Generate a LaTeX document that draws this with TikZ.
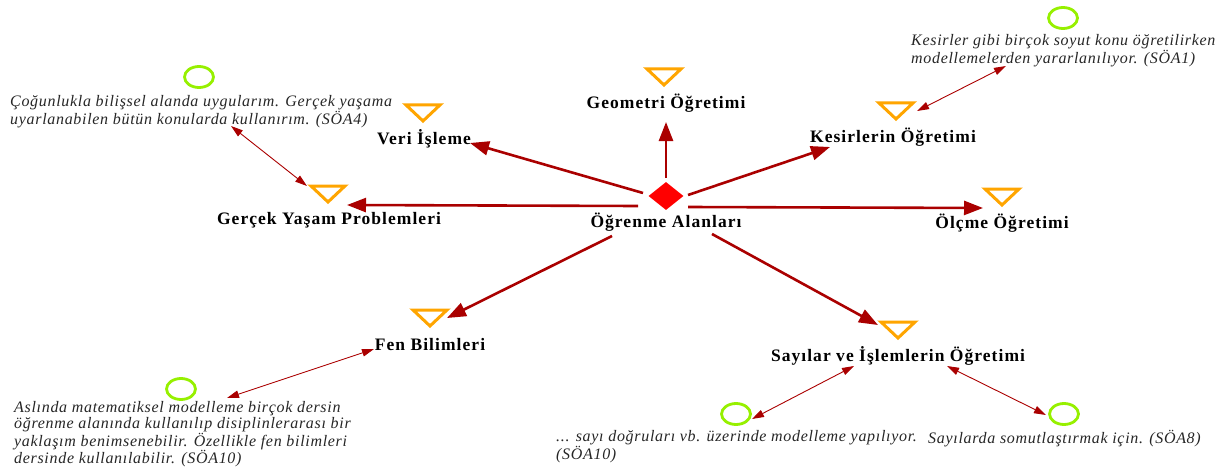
\documentclass[tikz,border=0pt]{standalone}
\usepackage{fontspec}
\setmainfont{Liberation Serif}
\usetikzlibrary{arrows.meta,shapes.geometric,calc}
\definecolor{arrowred}{RGB}{170,0,0}
\definecolor{triorange}{RGB}{255,165,0}
\definecolor{ringgreen}{RGB}{150,240,0}
\definecolor{hubred}{RGB}{255,0,0}
\tikzset{
  lab/.style={inner sep=0pt, font=\fontsize{17.5}{20}\selectfont\bfseries\addfontfeatures{LetterSpace=6}},
  note/.style={inner sep=0pt, anchor=north west, align=left,
    font=\fontsize{16}{16.2}\selectfont\itshape\addfontfeatures{LetterSpace=4.3}, text=black!85},
  hub/.style={diamond, fill=hubred, minimum width=35pt, minimum height=28pt, inner sep=0pt},
  ring/.style={ellipse, draw=ringgreen, line width=2.8pt, minimum width=29pt, minimum height=21pt, inner sep=0pt},
  mainarrow/.style={draw=arrowred, line width=2.6pt, -{Triangle[length=19pt,width=14pt]}},
  linkarrow/.style={draw=arrowred, line width=0.9pt, {Triangle[length=12pt,width=7.5pt]}-{Triangle[length=12pt,width=7.5pt]}},
  pics/downtri/.style={code={
    \draw[triorange, line width=3pt, line join=miter] (-17,-8) -- (17,-8) -- (0,8) -- cycle;}}
}
\begin{document}
\begin{tikzpicture}[x=1pt,y=-1pt]
\useasboundingbox (0,0) rectangle (1225,468);

% hub
\node[hub] (dia) at (666,196) {};
\node[lab] (ctr) at (666,222) {Öğrenme Alanları};

% learning areas
\pic at (664,77) {downtri};
\node[lab] (geoL) at (666,103) {Geometri Öğretimi};
\pic at (423,113) {downtri};
\node[lab] (veriL) at (424,139) {Veri İşleme};
\pic at (896,111) {downtri};
\node[lab] (kesL) at (893,137) {Kesirlerin Öğretimi};
\pic at (328,194) {downtri};
\node[lab] (gerL) at (329,220) {Gerçek Yaşam Problemleri};
\pic at (1002,197) {downtri};
\node[lab] (olcL) at (1002,223) {Ölçme Öğretimi};
\pic at (430,318) {downtri};
\node[lab] (fenL) at (430,345) {Fen Bilimleri};
\pic at (898,330) {downtri};
\node[lab] (sayL) at (898,356) {Sayılar ve İşlemlerin Öğretimi};

% hub arrows
\draw[mainarrow] ($(dia)+(0,-18)$) -- ($(geoL)+(0,19)$);
\draw[mainarrow] ($(dia)+(-23,-3)$) -- ($(veriL)+(46,4)$);
\draw[mainarrow] ($(dia)+(22,-1)$) -- ($(kesL)+(-63,10)$);
\draw[mainarrow] ($(dia)+(-28,10)$) -- ($(gerL)+(18,-15)$);
\draw[mainarrow] ($(dia)+(22,11)$) -- ($(olcL)+(-19,-15)$);
\draw[mainarrow] ($(ctr)+(-54,14)$) -- ($(fenL)+(17,-27)$);
\draw[mainarrow] ($(ctr)+(46,12)$) -- ($(sayL)+(-20,-31)$);

% statements
\node[ring] (c4) at (199,77) {};
\node[note] (n4) at (10,95) {Çoğunlukla bilişsel alanda uygularım. Gerçek yaşama\\uyarlanabilen bütün konularda kullanırım. (SÖA4)};
\node[ring] (c1) at (1063,18) {};
\node[note] (n1) at (911,34) {Kesirler gibi birçok soyut konu öğretilirken\\modellemelerden yararlanılıyor. (SÖA1)};
\node[ring] (cF) at (181,389) {};
\node[note] (nF) at (14,401) {Aslında matematiksel modelleme birçok dersin\\öğrenme alanında kullanılıp disiplinlerarası bir\\yaklaşım benimsenebilir. Özellikle fen bilimleri\\dersinde kullanılabilir. (SÖA10)};
\node[ring] (cS) at (736,414) {};
\node[note] (nS) at (556,430) {... sayı doğruları vb. üzerinde modelleme yapılıyor.\\(SÖA10)};
\node[ring] (c8) at (1064,414) {};
\node[note] (n8) at (928,430) {Sayılarda somutlaştırmak için. (SÖA8)};

% statement links
\draw[linkarrow] ($(n4.north west)+(221,31)$) -- ($(gerL)+(-22,-34)$);
\draw[linkarrow] ($(n1.north west)+(95,32)$) -- ($(kesL)+(24,-26)$);
\draw[linkarrow] ($(fenL)+(-56,4)$) -- ($(cF)+(46,9)$);
\draw[linkarrow] ($(sayL)+(-44,10)$) -- ($(cS)+(16,5)$);
\draw[linkarrow] ($(sayL)+(49,10)$) -- ($(c8)+(-18,1)$);
\end{tikzpicture}
\end{document}
